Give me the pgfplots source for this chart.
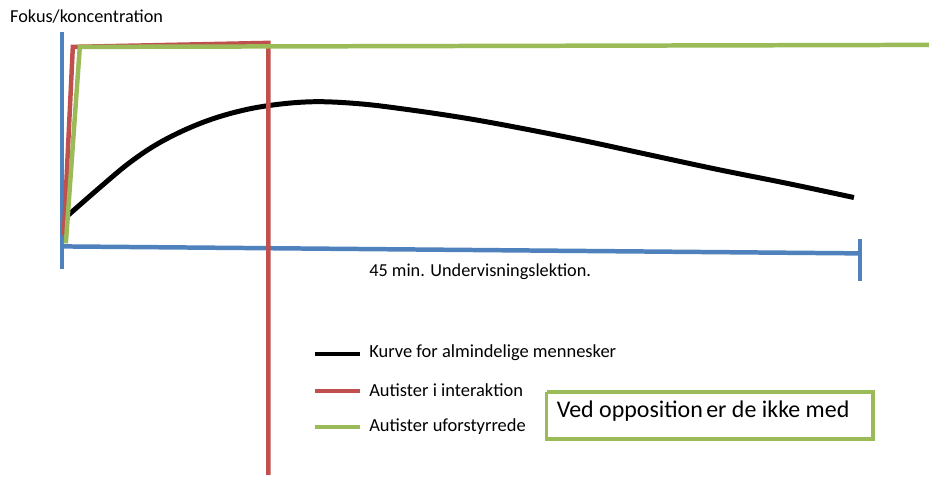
\documentclass[border=0pt]{standalone}
\usepackage{pgfplots}
\pgfplotsset{compat=1.18}
\usepackage{fontspec}
\setmainfont{Carlito}
\definecolor{oblue}{RGB}{79,129,189}
\definecolor{ored}{RGB}{192,80,77}
\definecolor{ogreen}{RGB}{155,187,89}
\begin{document}
\begin{tikzpicture}
\begin{axis}[
  scale only axis, width=931bp, height=481bp,
  xmin=0, xmax=931, ymin=0, ymax=481, y dir=reverse,
  hide axis, clip=false,
]
\path (rel axis cs:0,0) rectangle (rel axis cs:1,1);
% blue axes
\addplot[oblue, line width=4.5bp] coordinates {(62,32) (62,270)};
\addplot[oblue, line width=4.5bp] coordinates {(62,247) (862,254)};
\addplot[oblue, line width=4.5bp] coordinates {(862,240) (862,282)};
% black curve
\addplot[black, line width=5bp, smooth, tension=0.6] coordinates {
 (68,216) (100,188) (130,163) (160,143) (195,126) (230,114) (268,106)
 (313,102) (360,104) (410,110) (470,119) (530,130) (590,142) (650,155)
 (720,170) (790,184) (856,198)};
% red
\addplot[ored, line width=4.5bp] coordinates {(64,236) (73,47) (269,43) (269,476)};
% green
\addplot[ogreen, line width=4.5bp] coordinates {(66,244) (80,47) (931,45)};
% legend lines
\addplot[black, line width=4.5bp] coordinates {(316,355) (361,355)};
\addplot[ored, line width=4.5bp] coordinates {(316,392) (361,392)};
\addplot[ogreen, line width=4.5bp] coordinates {(316,428) (361,428)};
% box
\addplot[ogreen, line width=3.5bp] coordinates {(548,393) (875,393) (875,440) (548,440) (548,393)};
\node[anchor=west, inner sep=0pt, font=\fontsize{18.3bp}{20bp}\selectfont] at (axis cs:10,17) {Fokus/koncentration};
\node[anchor=west, inner sep=0pt, font=\fontsize{18.3bp}{20bp}\selectfont] at (axis cs:370,272) {45 min. Undervisningslektion.};
\node[anchor=west, inner sep=0pt, font=\fontsize{18.5bp}{20bp}\selectfont] at (axis cs:370,354) {Kurve for almindelige mennesker};
\node[anchor=west, inner sep=0pt, font=\fontsize{18.5bp}{20bp}\selectfont] at (axis cs:370,391) {Autister i interaktion};
\node[anchor=west, inner sep=0pt, font=\fontsize{18.5bp}{20bp}\selectfont] at (axis cs:370,428) {Autister uforstyrrede};
\node[anchor=west, inner sep=0pt, font=\fontsize{24bp}{26bp}\selectfont] at (axis cs:558,412) {Ved opposition\hspace{-2bp} er de ikke med};
\end{axis}
\end{tikzpicture}
\end{document}
